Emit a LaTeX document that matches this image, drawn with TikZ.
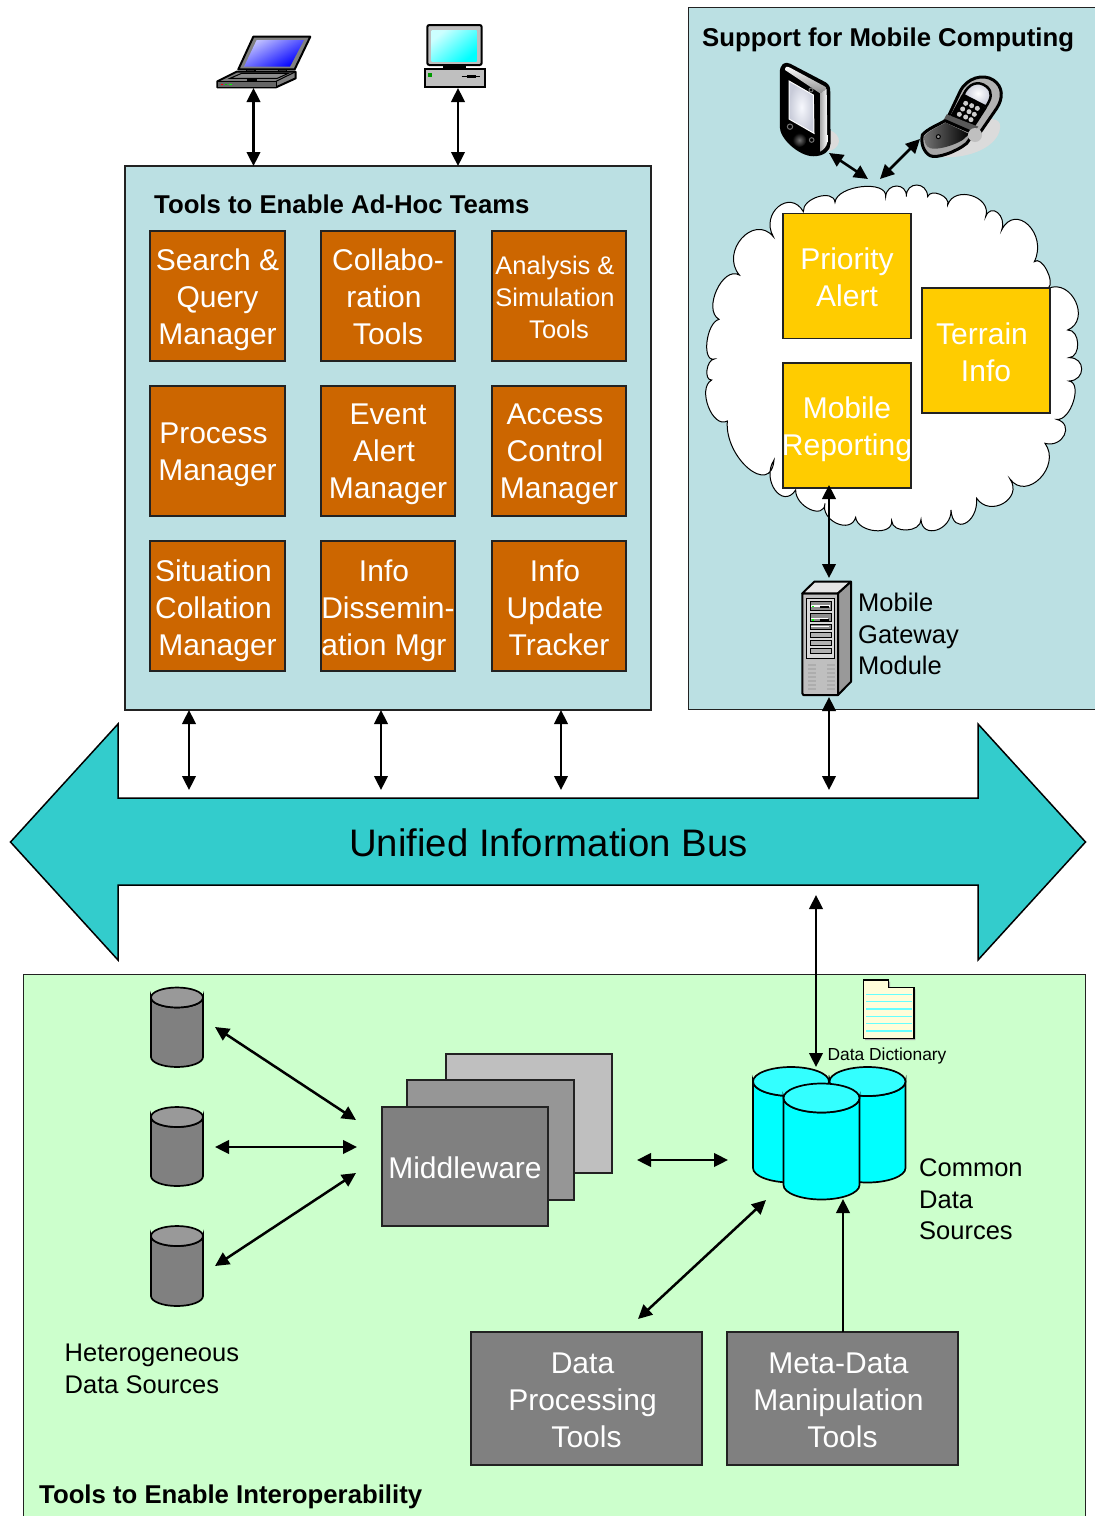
\documentclass[tikz,border=0pt]{standalone}
\usepackage{fontspec}
\setmainfont{Liberation Sans}
\usetikzlibrary{arrows.meta,calc}
\definecolor{panelblue}{HTML}{BBE0E3}
\definecolor{panelgreen}{HTML}{CCFFCC}
\definecolor{busteal}{HTML}{33CCCC}
\definecolor{mgmtorange}{HTML}{CC6600}
\definecolor{mobyellow}{HTML}{FFCC00}
\definecolor{edge}{HTML}{222222}
\definecolor{cylcyan}{HTML}{00FFFF}
\definecolor{cylcyantop}{HTML}{33FFFF}
\definecolor{screenpale}{HTML}{CCFFFF}
\definecolor{screenlav}{HTML}{E4E8FA}
\newcommand\lft[1]{\hspace*{-8pt}#1}
\newcommand\dbcyl[7]{% cx, top centre y, bottom centre y, rx, ry, body, top
  \path[draw=black,line width=1.7pt,fill=#6] (#1-#4,#3) -- (#1-#4,#2) arc[start angle=180,end angle=0,x radius=#4,y radius=#5] -- (#1+#4,#3) arc[start angle=0,end angle=-180,x radius=#4,y radius=-#5] -- cycle;
  \path[draw=black,line width=1.7pt,fill=#7] (#1,#2) ellipse[x radius=#4,y radius=#5];}
\tikzset{
  panel/.style={draw=edge,line width=1.8pt,fill=panelblue},
  bigtxt/.style={font=\fontsize{30}{37}\selectfont,align=center,text=white,inner sep=0pt},
  smalltxt/.style={font=\fontsize{25.5}{32}\selectfont,align=center,text=white,inner sep=0pt},
  lbl/.style={font=\fontsize{25.5}{31.5}\selectfont,align=left,text=black,inner sep=0pt,anchor=west},
  ttl/.style={font=\fontsize{25.75}{31}\selectfont\bfseries,text=black,inner sep=0pt,anchor=west},
  mgr/.style={draw=edge,line width=1.8pt,fill=mgmtorange,inner sep=0pt,minimum width=134.5pt,minimum height=129.5pt},
  ylw/.style={draw=edge,line width=1.8pt,fill=mobyellow,inner sep=0pt,minimum width=128pt,minimum height=125pt},
  graybox/.style={draw=edge,line width=1.8pt,fill=gray,inner sep=0pt},
  link/.style={line width=2.5pt,draw=black,{Triangle[length=14pt,width=13.5pt]}-{Triangle[length=14pt,width=13.5pt]}},
  uplink/.style={line width=2.5pt,draw=black,-{Triangle[length=14pt,width=13.5pt]}},
  zoomA/.style={shift={(200,10)},x=0.33333pt,y=-0.33333pt},
  zoomC/.style={shift={(700,400)},x=0.33333pt,y=-0.33333pt},
  zoomD/.style={shift={(730,960)},x=0.33333pt,y=-0.33333pt},
  zoomE/.style={shift={(695,175)},x=0.33333pt,y=-0.33333pt},
  zoomF/.style={shift={(770,55)},x=0.33333pt,y=-0.33333pt},
}
\begin{document}
\begin{tikzpicture}[x=1pt,y=-1pt]
\useasboundingbox (0,0) rectangle (1095,1516);
\clip (0,0) rectangle (1095,1516);
\fill[white] (0,0) rectangle (1095,1516);

% panels
\node[panel,inner sep=0pt,minimum width=526pt,minimum height=544pt] (teams) at (388,438) {};
\draw[panel] (688.5,7.5) rectangle (1110,709.5);
\draw[draw=edge,line width=1.8pt,fill=panelgreen] (23.5,1530) -- (23.5,974.5) -- (1085.5,974.5) -- (1085.5,1530);

\node[ttl] (teamstitle) at (154,204) {Tools to Enable Ad-Hoc Teams};
\node[ttl] (mobiletitle) at (702,39.5) {Support for Mobile Computing};
\node[ttl] (interoptitle) at (39,1496.5) {Tools to Enable Interoperability};

% orange boxes
\node[mgr] (b11) at (217.5,296) {}; \node[mgr] (b12) at (388,296) {}; \node[mgr] (b13) at (559,296) {};
\node[mgr] (b21) at (217.5,451) {}; \node[mgr] (b22) at (388,451) {}; \node[mgr] (b23) at (559,451) {};
\node[mgr] (b31) at (217.5,606) {}; \node[mgr] (b32) at (388,606) {}; \node[mgr] (b33) at (559,606) {};
\node[bigtxt] (t11) at (217.5,300) {Search \&\\Query\\Manager};
\node[bigtxt] (t12) at (388,297) {Collabo-\\\lft{ration}\\Tools};
\node[smalltxt] (t13) at (559,297) {\lft{Analysis \&}\\\lft{Simulation}\\Tools};
\node[bigtxt] (t21) at (217.5,455) {\lft{Process}\\Manager};
\node[bigtxt] (t22) at (388,454.5) {Event\\\lft{Alert}\\Manager};
\node[bigtxt] (t23) at (559,454.5) {\lft{Access}\\\lft{Control}\\Manager};
\node[bigtxt] (t31) at (217.5,610.5) {\lft{Situation}\\\lft{Collation}\\Manager};
\node[bigtxt] (t32) at (388,610.5) {\lft{Info}\\Dissemin-\\\lft{ation Mgr}};
\node[bigtxt] (t33) at (559,607.5) {\lft{Info}\\\lft{Update}\\Tracker};

% cloud
\begin{scope}[zoomE]
\path[draw=black,line width=1pt,fill=white] (325,110)
 \foreach \ax/\ay/\px/\py/\bx/\by in {
 325/110/370/65/420/82, 420/82/500/35/572/65, 572/65/605/33/634/65, 634/65/665/30/698/65,
 698/65/735/58/758/90, 758/90/830/62/872/125, 872/125/908/113/920/165, 920/165/1000/150/1018/260,
 1018/260/1055/285/1060/340, 1060/340/1142/380/1118/465, 1118/465/1148/505/1122/548,
 1122/548/1160/582/1122/618, 1122/618/1135/680/1085/733, 1085/733/1108/780/1050/805,
 1050/805/1035/910/945/912, 945/912/925/985/845/970, 845/970/810/1045/768/1005,
 768/1005/725/1065/678/1033, 678/1033/635/1065/590/1037, 590/1037/540/1067/482/1027,
 482/1027/425/1045/390/985, 390/985/345/1003/302/945, 302/945/240/945/237/855,
 237/855/160/880/97/738, 97/738/40/695/50/615, 50/615/36/585/58/552, 58/552/36/500/72/433,
 72/433/65/345/133/300, 133/300/140/190/235/185, 235/185/250/95/325/110}
 { .. controls ({\ax+1.3333*(\px-(\ax+\bx)/2)},{\ay+1.3333*(\py-(\ay+\by)/2)}) and ({\bx+1.3333*(\px-(\ax+\bx)/2)},{\by+1.3333*(\py-(\ay+\by)/2)}) .. (\bx,\by) } -- cycle;
\end{scope}

% yellow boxes
\node[ylw] (priority) at (847,276) {};
\node[ylw] (terrain) at (986,350.5) {};
\node[ylw] (reporting) at (847,425.5) {};
\node[bigtxt] at (847,277) (tpri) {Priority\\Alert};
\node[bigtxt] at (986,352) (tter) {\lft{Terrain}\\Info};
\node[bigtxt] at (847,429) (trep) {Mobile\\Reporting};

% bus
\draw[draw=black,line width=1.5pt,fill=busteal] (10.5,842) -- (118,724) -- (118,798) -- (978,798) -- (978,724) -- (1085.5,842) -- (978,960) -- (978,885) -- (118,885) -- (118,960) -- cycle;
\node[font=\fontsize{38.35}{44}\selectfont,inner sep=0pt,text=black] (bus) at (548.5,843) {Unified Information Bus};

% laptop
\begin{scope}[zoomA]
\draw[line width=2pt,line join=round,fill=gray] (160,80) -- (331,80) -- (284,178) -- (115,178) -- cycle;
\path[top color=blue!25!white,bottom color=blue,shading angle=30] (170,90) -- (312,90) -- (270,170) -- (132,170) -- cycle;
\draw[line width=1.5pt,fill=black!70] (140,178) rectangle (165,186);
\draw[line width=1.5pt,fill=black!70] (235,178) rectangle (260,186);
\draw[line width=2pt,line join=round,fill=gray] (52,214) -- (110,185) -- (287,185) -- (287,205) -- (228,232) -- (52,232) -- cycle;
\draw[line width=1pt,fill=black!60] (52,214) -- (228,214) -- (228,232) -- (52,232) -- cycle;
\draw[line width=1pt] (228,214) -- (287,185);
\draw[line width=1pt,fill=black!45] (90,205) -- (125,190) -- (265,190) -- (232,205) -- cycle;
\fill[black] (140,206) rectangle (170,213);
\fill[red] (62,221) rectangle (70,226);
\fill[green!80!black] (75,221) rectangle (82,226);
\fill[green] (88,221) rectangle (96,226);
\end{scope}

% desktop
\begin{scope}[zoomA]
\draw[line width=2pt,fill=lightgray,rounded corners=2pt] (682,45) rectangle (845,165);
\path[top color=screenpale,bottom color=cylcyan,shading angle=40] (695,62) rectangle (830,153);
\fill[black] (730,165) rectangle (797,175);
\draw[line width=2pt,fill=lightgray] (674,178) rectangle (854,232);
\fill[green!60!black] (685,190) rectangle (695,200);
\draw[line width=1.5pt] (785,199) -- (840,199);
\fill[black] (800,194) rectangle (828,204);
\end{scope}

% PDA
\begin{scope}[zoomF]
\fill[black!14] (140,220) .. controls (195,215) and (225,255) .. (195,280) .. controls (180,292) and (160,290) .. (130,285) -- cycle;
\draw[line width=2.5pt,fill=black,line join=round] (33,55) .. controls (33,30) and (45,22) .. (60,30) -- (165,85) .. controls (175,92) and (177,97) .. (177,110) -- (178,265) .. controls (178,285) and (160,300) .. (130,300) .. controls (90,300) and (33,250) .. (33,215) -- cycle;
\path[top color=white,bottom color=black!45] (45,45) .. controls (45,35) and (50,33) .. (60,38) -- (160,92) .. controls (170,97) and (170,100) .. (168,104) -- (150,115) -- cycle;
\path[left color=black!35,right color=white] (150,115) -- (170,102) -- (172,262) .. controls (170,275) and (160,285) .. (150,290) -- cycle;
\path[draw=white,line width=1pt,inner color=screenlav!30!white,outer color=screenlav!85!black!90] (57,78) -- (130,120) -- (132,235) -- (57,192) -- cycle;
\path[inner color=black!55,outer color=black] (88,255) circle (21);
\draw[black!55,line width=1pt,fill=black] (60,215) circle (8);
\draw[black!55,line width=1pt,fill=black] (123,105) circle (6);
\draw[black!55,line width=1pt,fill=black] (125,255) circle (7);
\end{scope}

% flip phone
\begin{scope}[zoomF]
\fill[black!14] (620,200) .. controls (670,185) and (700,190) .. (688,230) .. controls (672,280) and (590,315) .. (500,305) -- cycle;
\draw[line width=3pt,fill=black!30,line join=round] (530,195) -- (570,110) .. controls (590,68) and (640,55) .. (670,75) .. controls (700,95) and (700,130) .. (680,160) -- (625,240) -- cycle;
\path[fill=black] (537,190) -- (575,120) -- (650,160) -- (610,222) -- cycle;
\path[draw=black,line width=2.5pt,inner color=white,outer color=screenlav!85!black] (580,120) .. controls (595,85) and (625,75) .. (650,95) .. controls (668,110) and (665,130) .. (648,155) -- cycle;
\foreach \kx/\ky in {587/145,605/152,622/160,578/162,597/170,613/178,568/178,587/186,603/194}
  \fill[black!20] (\kx,\ky) circle (7.5);
\path[fill=black!65] (530,178) -- (625,215) -- (605,235) -- (518,200) -- cycle;
\draw[line width=3pt,fill=black!35,line join=round] (457,240) .. controls (470,222) and (510,207) .. (525,197) -- (612,235) -- (590,265) .. controls (560,290) and (500,312) .. (480,302) .. controls (460,290) and (452,265) .. (457,240) -- cycle;
\path[left color=black!55,right color=black] (464,242) .. controls (480,225) and (510,212) .. (527,203) -- (598,237) -- (578,255) .. controls (550,272) and (505,285) .. (482,280) .. controls (466,275) and (462,260) .. (464,242) -- cycle;
\draw[line width=1pt,fill=black!40] (505,245) circle (6);
\fill[black!25] (615,240) circle (21);
\end{scope}

% server
\begin{scope}[zoomC]
\draw[line width=2pt,line join=round,fill=lightgray] (307,580) -- (414,580) -- (414,885) -- (310,885) -- (307,880) -- cycle;
\draw[line width=2pt,line join=round,fill=black!10] (307,580) -- (343,545) -- (453,545) -- (414,580) -- cycle;
\draw[line width=2pt,line join=round,fill=black!40] (414,580) -- (453,545) -- (453,845) -- (414,885) -- cycle;
\draw[line width=1.5pt,fill=black!15] (320,595) rectangle (403,775);
\draw[line width=1pt,fill=black!45] (330,605) rectangle (393,632);
\draw[line width=1pt,fill=black!45] (330,640) rectangle (393,665);
\draw[line width=1pt,fill=black!45] (330,672) rectangle (393,688);
\draw[line width=1pt,fill=black!30] (330,696) rectangle (393,712);
\draw[line width=1pt,fill=black!30] (330,720) rectangle (393,736);
\draw[line width=1pt,fill=black!30] (330,744) rectangle (393,760);
\fill[white] (333,616) rectangle (390,620);
\fill[white] (333,653) rectangle (385,657);
\fill[white] (333,679) rectangle (388,682);
\fill[green] (335,617) rectangle (342,622);
\fill[green] (335,658) rectangle (342,662);
\fill[black] (360,619) rectangle (388,625);
\fill[black] (360,658) rectangle (388,663);
\foreach \vy in {793,805,817,829,841,853,865} {
  \fill[black!32] (325,\vy) rectangle (348,\vy+4);
  \fill[black!32] (382,\vy) rectangle (405,\vy+4);}
\end{scope}
\node[lbl] (gatewaytxt) at (858,634) {Mobile\\Gateway\\Module};

% heterogeneous cylinders
\dbcyl{177}{997.5}{1057}{26}{10}{gray}{black!40}
\dbcyl{177}{1117}{1176}{26}{10}{gray}{black!40}
\dbcyl{177}{1236}{1296}{26}{10}{gray}{black!40}
\node[lbl] (hettxt) at (64.5,1369) {Heterogeneous\\Data Sources};

% middleware stack
\node[draw=edge,line width=1.8pt,fill=lightgray,inner sep=0pt,minimum width=166pt,minimum height=119pt] (mw3) at (529,1113.5) {};
\node[draw=edge,line width=1.8pt,fill=black!41,inner sep=0pt,minimum width=167pt,minimum height=120pt] (mw2) at (490.5,1140) {};
\node[graybox,minimum width=166pt,minimum height=119pt] (mw1) at (465,1166.5) {};
\node[bigtxt] (mwtxt) at (465,1168) {Middleware};

% common data sources
\dbcyl{791}{1081.5}{1168}{38}{14.5}{cylcyan}{cylcyantop}
\dbcyl{867.5}{1081.5}{1168}{38}{14.5}{cylcyan}{cylcyantop}
\dbcyl{821.5}{1098}{1185}{38}{14.5}{cylcyan}{cylcyantop}
\node[lbl] (commontxt) at (919,1199.5) {Common\\Data\\Sources};

% paper
\begin{scope}[zoomD]
\fill[black!35] (405,65) -- (480,65) -- (480,88) -- (556,88) -- (556,240) -- (405,240) -- cycle;
\draw[line width=1.5pt,fill=yellow!15!white] (400,60) -- (475,60) -- (475,83) -- (552,83) -- (552,235) -- (400,235) -- cycle;
\foreach \ly in {103,125,147,169,191,213}
  \draw[cylcyan!60!white,line width=1.2pt] (408,\ly) -- (545,\ly);
\end{scope}
\node[font=\fontsize{17.4}{22}\selectfont,inner sep=0pt] (dict) at (887,1055.5) {Data Dictionary};

% tool boxes
\node[graybox,minimum width=231pt,minimum height=133pt] (dpt) at (586.5,1398.5) {};
\node[graybox,minimum width=231pt,minimum height=133pt] (mdt) at (842.5,1398.5) {};
\node[bigtxt] (dpttxt) at (586.5,1400) {\lft{Data}\\\lft{Processing}\\Tools};
\node[bigtxt] (mdttxt) at (842.5,1400) {\lft{Meta-Data}\\\lft{Manipulation}\\Tools};

% connector ends
\coordinate (laptopE) at (253.5,88);
\coordinate (desktopE) at (458,88);
\coordinate (teamsL) at (253.5,166);
\coordinate (teamsR) at (458,166);
\coordinate (a1t) at (189,710); \coordinate (a1b) at (189,790);
\coordinate (a2t) at (381,710); \coordinate (a2b) at (381,790);
\coordinate (a3t) at (561,710); \coordinate (a3b) at (561,790);
\coordinate (gwt) at (829,697); \coordinate (gwb) at (829,790);
\coordinate (rept) at (829,485); \coordinate (repb) at (829,578);
\coordinate (bust) at (816,895); \coordinate (busb) at (816,1067);
\coordinate (pda1) at (829,153); \coordinate (pda2) at (868,179);
\coordinate (ph1) at (920,139); \coordinate (ph2) at (880,179);
\coordinate (c1) at (215,1027); \coordinate (c1m) at (356,1120);
\coordinate (c2) at (215,1147); \coordinate (c2m) at (357,1147);
\coordinate (c3) at (215,1266); \coordinate (c3m) at (356,1173);
\coordinate (ml) at (637,1160); \coordinate (mr) at (728,1160);
\coordinate (dbl) at (766,1200); \coordinate (dpte) at (638,1319);
\coordinate (mdte) at (843,1332); \coordinate (dbb) at (843,1199);

\draw[link] (laptopE) -- (teamsL);
\draw[link] (desktopE) -- (teamsR);
\draw[link] (a1t) -- (a1b);
\draw[link] (a2t) -- (a2b);
\draw[link] (a3t) -- (a3b);
\draw[link] (gwt) -- (gwb);
\draw[link] (rept) -- (repb);
\draw[link] (bust) -- (busb);
\draw[link] (pda1) -- (pda2);
\draw[link] (ph1) -- (ph2);
\draw[link] (c1) -- (c1m);
\draw[link] (c2) -- (c2m);
\draw[link] (c3) -- (c3m);
\draw[link] (ml) -- (mr);
\draw[link] (dbl) -- (dpte);
\draw[uplink] (mdte) -- (dbb);
\end{tikzpicture}
\end{document}
